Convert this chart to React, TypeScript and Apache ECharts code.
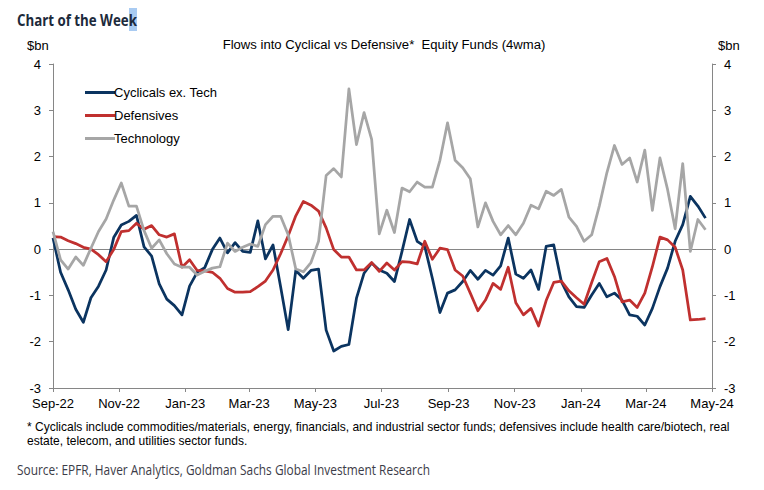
import React, { useEffect, useRef } from "react";
import * as echarts from "echarts";

// Weekly observations (4-week moving average, $bn), first week = early Sep 2022
const START_DATE = [2022, 8, 1];
const cyclicals = [0.24,-0.5,-0.88,-1.3,-1.58,-1.05,-0.8,-0.45,0.25,0.52,0.6,0.73,0.05,-0.15,-0.75,-1.08,-1.22,-1.42,-0.8,-0.5,-0.4,-0.01,0.24,-0.08,0.14,-0.05,-0.07,0.61,-0.21,0.09,-0.81,-1.74,-0.46,-0.63,-0.46,-0.43,-1.75,-2.2,-2.1,-2.06,-1.06,-0.52,-0.3,-0.45,-0.52,-0.7,-0.05,0.64,0.17,0.06,-0.63,-1.37,-0.95,-0.88,-0.7,-0.46,-0.65,-0.46,-0.56,-0.36,0.24,-0.54,-0.63,-0.45,-0.87,0.06,0.09,-0.7,-1.03,-1.24,-1.26,-0.99,-0.74,-1.03,-0.95,-1.1,-1.42,-1.45,-1.64,-1.28,-0.81,-0.41,0.17,0.53,1.14,0.93,0.67];
const defensives = [0.27,0.26,0.18,0.12,0.04,0.0,-0.12,-0.27,-0.01,0.38,0.4,0.56,0.43,0.51,0.31,0.26,0.33,-0.39,-0.23,-0.46,-0.47,-0.5,-0.63,-0.85,-0.93,-0.93,-0.92,-0.81,-0.69,-0.45,-0.1,0.29,0.72,1.03,0.95,0.82,0.46,-0.01,-0.17,-0.17,-0.45,-0.45,-0.29,-0.48,-0.3,-0.45,-0.27,-0.28,-0.32,0.17,-0.22,0.02,-0.01,-0.45,-0.58,-0.95,-1.33,-1.1,-0.74,-0.87,-0.39,-1.16,-1.42,-1.28,-1.66,-1.11,-0.72,-0.69,-0.9,-1.05,-1.19,-0.72,-0.27,-0.2,-0.59,-1.14,-1.1,-1.26,-0.95,-0.38,0.26,0.2,0.04,-0.45,-1.53,-1.52,-1.5];
const technology = [0.38,-0.23,-0.43,-0.17,-0.35,0.02,0.38,0.65,1.06,1.43,0.93,0.93,0.4,0.02,0.2,-0.1,-0.32,-0.39,-0.39,-0.56,-0.48,-0.41,-0.38,0.13,-0.05,0.04,0.11,0.06,0.53,0.71,0.71,0.31,-0.43,-0.49,-0.29,0.17,1.59,1.74,1.56,3.46,2.26,2.95,2.37,0.33,0.84,0.36,1.32,1.24,1.45,1.34,1.34,1.92,2.73,1.92,1.76,1.52,0.48,1.0,0.6,0.31,0.51,0.31,0.56,0.95,0.87,1.25,1.16,1.29,0.69,0.49,0.17,0.31,0.93,1.65,2.24,1.83,1.97,1.45,2.14,0.84,1.97,1.29,0.44,1.85,-0.05,0.64,0.42];

const seriesNames = ["Cyclicals ex. Tech", "Defensives", "Technology"];
const tickMonths = [[2022,8],[2022,10],[2023,0],[2023,2],[2023,4],[2023,6],[2023,8],[2023,10],[2024,0],[2024,2],[2024,4]];
const monthNames = ["Jan","Feb","Mar","Apr","May","Jun","Jul","Aug","Sep","Oct","Nov","Dec"];
const yTicks = { min: -3, max: 4, interval: 1 };

const chartTitle = "Flows into Cyclical vs Defensive*  Equity Funds (4wma)";
const footnote1 = "* Cyclicals include commodities/materials, energy, financials, and industrial sector funds; defensives include health care/biotech, real";
const footnote2 = "estate, telecom, and utilities sector funds.";
const sourceText = "Source: EPFR, Haver Analytics, Goldman Sachs Global Investment Research";

const COLORS = ["#0b3460", "#c0302f", "#a6a6a6"];
const AXIS = "#868686";
const FONT = "'Liberation Sans', Arial, sans-serif";

function fit(text: string, font: string, width: number) {
  const c = document.createElement("canvas").getContext("2d");
  if (!c) return 1;
  c.font = font;
  const w = c.measureText(text).width;
  return w > 0 ? width / w : 1;
}

export default function App() {
  const ref = useRef<HTMLDivElement>(null);
  useEffect(() => {
    if (!ref.current) return;
    const chart = echarts.init(ref.current, null, { renderer: "svg" });
    const WEEK = 7 * 24 * 3600 * 1000;
    const start = new Date(START_DATE[0], START_DATE[1], START_DATE[2]).getTime();
    const dates = cyclicals.map((_, i) => start + i * WEEK);
    const ticks = tickMonths.map(([y, m]) => new Date(y, m, 1).getTime());
    const xMin = ticks[0];
    const xMax = ticks[ticks.length - 1];
    const fmt = (v: number) => {
      const d = new Date(v);
      return monthNames[d.getMonth()] + "-" + String(d.getFullYear()).slice(2);
    };
    const allData = [cyclicals, defensives, technology];

    const titleFont = "bold 16px 'Open Sans'";
    const srcFont = "14px 'Open Sans'";
    const noteFont = "12px 'Liberation Sans'";
    const headFont = "12px 'Liberation Sans'";
    const sTitle = fit("Chart of the Week", titleFont, 120);
    const sSrc = fit(sourceText, srcFont, 413);
    const sNote = fit(footnote1, noteFont, 703);
    const sHead = fit(chartTitle, headFont, 323);

    const yAxisBase = {
      type: "value",
      min: yTicks.min,
      max: yTicks.max,
      interval: yTicks.interval,
      axisLine: { show: true, onZero: false, lineStyle: { color: AXIS, width: 1 } },
      axisTick: { show: true, length: 4, lineStyle: { color: AXIS } },
      axisLabel: { margin: 12, color: "#000", fontSize: 13, fontFamily: FONT },
      splitLine: { show: false },
    };

    chart.setOption({
      animation: false,
      grid: { left: 53, right: 52, top: 64, bottom: 102, containLabel: false },
      legend: {
        left: 80,
        top: 80,
        orient: "vertical",
        icon: "rect",
        itemWidth: 30,
        itemHeight: 3,
        itemGap: 8,
        data: seriesNames,
        textStyle: { fontSize: 13, fontFamily: FONT, color: "#000", lineHeight: 15, padding: [0, 0, 0, -6] },
      },
      xAxis: [
        {
          type: "value",
          min: xMin,
          max: xMax,
          scale: true,
          axisLine: { show: true, onZero: false, lineStyle: { color: AXIS, width: 1 } },
          axisTick: { show: true, length: 4, customValues: ticks, lineStyle: { color: AXIS } },
          axisLabel: { customValues: ticks, formatter: fmt, margin: 9, color: "#000", fontSize: 13, fontFamily: FONT },
          splitLine: { show: false },
        },
        {
          type: "value",
          min: xMin,
          max: xMax,
          scale: true,
          position: "bottom",
          axisLine: { show: true, onZero: true, lineStyle: { color: AXIS, width: 1 } },
          axisTick: { show: false },
          axisLabel: { show: false },
          splitLine: { show: false },
        },
      ],
      yAxis: [
        { ...yAxisBase, position: "left" },
        { ...yAxisBase, position: "right" },
      ],
      series: seriesNames.map((name, k) => ({
        name,
        type: "line",
        xAxisIndex: 0,
        yAxisIndex: 0,
        showSymbol: false,
        symbol: "none",
        color: COLORS[k],
        lineStyle: { color: COLORS[k], width: 2.75, join: "round" },
        data: dates.map((d, i) => [d, allData[k][i]]),
        z: 2 + k,
      })),
      graphic: [
        { type: "rect", shape: { x: 129, y: 8, width: 8, height: 23 }, style: { fill: "#a9cbf2" }, z: 1 },
        {
          type: "text", x: 17, y: 19, scaleX: sTitle, z: 2,
          style: { text: "Chart of the Week", font: titleFont, fill: "#1c2a3b", textAlign: "left", textVerticalAlign: "middle" },
        },
        {
          type: "text", x: 27, y: 45.5, z: 2,
          style: { text: "$bn", font: "13px " + FONT, fill: "#000", textAlign: "left", textVerticalAlign: "middle" },
        },
        {
          type: "text", x: 718, y: 45.5, z: 2,
          style: { text: "$bn", font: "13px " + FONT, fill: "#000", textAlign: "left", textVerticalAlign: "middle" },
        },
        {
          type: "text", x: 384, y: 45.5, scaleX: sHead, z: 2,
          style: { text: chartTitle, font: headFont, fill: "#000", textAlign: "center", textVerticalAlign: "middle" },
        },
        {
          type: "text", x: 27, y: 427, scaleX: sNote, z: 2,
          style: { text: footnote1, font: noteFont, fill: "#000", textAlign: "left", textVerticalAlign: "middle" },
        },
        {
          type: "text", x: 27, y: 441, scaleX: sNote, z: 2,
          style: { text: footnote2, font: noteFont, fill: "#000", textAlign: "left", textVerticalAlign: "middle" },
        },
        {
          type: "text", x: 17, y: 469.5, scaleX: sSrc, z: 2,
          style: { text: sourceText, font: srcFont, fill: "#3c3c48", textAlign: "left", textVerticalAlign: "middle" },
        },
      ],
    });
    return () => chart.dispose();
  }, []);
  return <div ref={ref} style={{ position: "fixed", left: 0, top: 0, width: 764, height: 490, background: "#fff" }} />;
}
